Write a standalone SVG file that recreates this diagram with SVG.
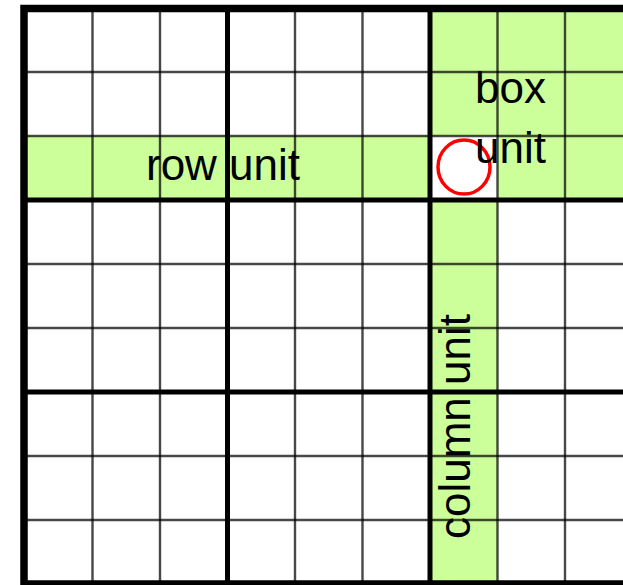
<svg xmlns="http://www.w3.org/2000/svg" width="623" height="585" viewBox="0 0 623 585">
  <style>
    .green { fill: #ccff99; }
    .thin { stroke: #000; stroke-opacity: 0.72; stroke-width: 2.4; fill: none; }
    .thick { stroke: #000; stroke-width: 5; fill: none; }
    .outer { stroke: #000; stroke-width: 7.5; fill: none; }
    .lbl { font-family: "Liberation Sans", Arial, sans-serif; font-size: 44px; fill: #000; }
  </style>
  <rect x="0" y="0" width="623" height="585" fill="#fff"/>
  <g id="units">
    <rect id="row-unit-bg" class="green" x="24" y="136" width="406" height="64"/>
    <rect id="box-unit-bg-top" class="green" x="430" y="8" width="193" height="128"/>
    <rect id="box-unit-bg-right" class="green" x="497.5" y="136" width="125.5" height="64"/>
    <rect id="column-unit-bg" class="green" x="430" y="200" width="67.5" height="385"/>
  </g>
  <g id="grid-thin">
    <path class="thin" d="M92.5 8V585 M160 8V585 M295 8V585 M362.5 8V585 M497.5 8V585 M565 8V585"/>
    <path class="thin" d="M24 72H623 M24 136H623 M24 264H623 M24 328H623 M24 456H623 M24 520H623"/>
  </g>
  <g id="grid-thick">
    <path class="thick" d="M227.5 8V585 M430 8V585"/>
    <path class="thick" d="M24 200H623 M24 392H623"/>
    <path class="outer" d="M24 585V8.5H623 M24 584H623"/>
  </g>
  <g id="cell-marker">
    <ellipse cx="464" cy="167" rx="26" ry="27" fill="none" stroke="#ff0000" stroke-width="3.5"/>
  </g>
  <g id="labels">
    <text id="row-unit" class="lbl" x="146" y="180">row unit</text>
    <text id="box-unit-1" class="lbl" x="475" y="103">box</text>
    <text id="box-unit-2" class="lbl" x="475" y="163">unit</text>
    <text id="column-unit" class="lbl" transform="translate(470,539) rotate(-90)">column unit</text>
  </g>
</svg>
